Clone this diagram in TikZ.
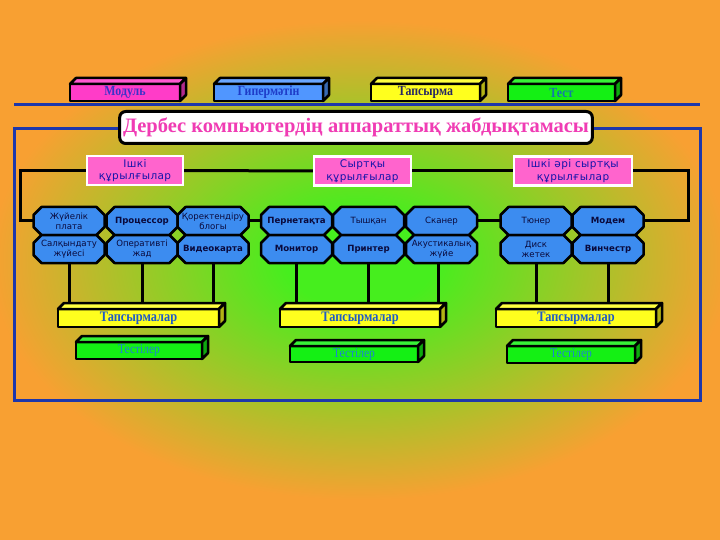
\documentclass[tikz,border=0pt]{standalone}
\usepackage{fontspec}
\setmainfont{Liberation Serif}
\newfontfamily\condserif[FakeStretch=0.85]{Liberation Serif}
\newfontfamily\hexfont{DejaVu Sans}
\newfontfamily\catfont[LetterSpace=4]{DejaVu Sans}
\usetikzlibrary{calc}
\definecolor{bgorange}{RGB}{248,160,50}
\definecolor{bggreen}{RGB}{70,238,30}
\definecolor{bluel}{RGB}{30,55,170}
\definecolor{hexblue}{RGB}{60,140,240}
\definecolor{hextext}{RGB}{10,10,60}
\definecolor{catpink}{RGB}{255,100,205}
\definecolor{cattext}{RGB}{20,20,170}
\definecolor{titlepink}{RGB}{240,60,180}
\definecolor{modfill}{RGB}{255,60,200}
\definecolor{modtext}{RGB}{60,50,200}
\definecolor{hypfill}{RGB}{80,150,255}
\definecolor{hyptext}{RGB}{30,60,200}
\definecolor{tapfill}{RGB}{255,255,30}
\definecolor{taptext}{RGB}{40,40,100}
\definecolor{testfill}{RGB}{20,240,20}
\definecolor{testtext}{RGB}{20,120,170}
\definecolor{tapstext}{RGB}{30,90,200}
\definecolor{tesstext}{RGB}{30,130,210}
\pgfdeclareradialshading{bgshade}{\pgfpoint{0bp}{0bp}}{color(0bp)=(bggreen); color(5bp)=(bggreen); color(25bp)=(bgorange); color(50bp)=(bgorange)}
\pgfdeclarelayer{lines}
\pgfdeclarelayer{shapes}
\pgfsetlayers{lines,shapes,main}
\tikzset{
  blueframe/.style={draw=bluel, line width=3},
  conn/.style={draw=black, line width=3},
  hexnode/.style={rectangle, minimum width=71, minimum height=28, inner sep=0, outer sep=0, align=center, text=hextext, font=\hexfont\fontsize{8.6}{10}\selectfont},
  hexshape/.style={fill=hexblue, draw=black, line width=2.5, line join=round},
  barfront/.style={rectangle, draw=black, line width=2.5, outer sep=0, inner sep=0, line join=round},
  barface/.style={draw=black, line width=2.5, line join=round},
  catbox/.style={rectangle, fill=catpink, draw=white, line width=2.5, minimum height=29, inner sep=0, outer sep=0, align=center, text=cattext, font=\catfont\fontsize{10.5}{12.5}\selectfont},
  titlebox/.style={rectangle, rounded corners=6, fill=white, draw=black, line width=3, minimum width=469, minimum height=32, outer sep=0, text=titlepink, font=\bfseries\fontsize{20.5}{22}\selectfont},
  topbtn/.style={font=\condserif\bfseries\fontsize{14}{15}\selectfont},
  tapsbtn/.style={text=tapstext, font=\condserif\bfseries\fontsize{14.5}{15}\selectfont},
  tessbtn/.style={text=tesstext, font=\condserif\fontsize{13.5}{14}\selectfont}
}
\newcommand\chm{8}
\newcommand\octbox[4]{%
  \node[hexnode] (#1) at (#2,#3) {#4};
  \begin{pgfonlayer}{shapes}
  \filldraw[hexshape] ($(#1.north west)+(\chm,0)$) -- ($(#1.north east)+(-\chm,0)$) -- ($(#1.north east)+(0,\chm)$) -- ($(#1.south east)+(0,-\chm)$) -- ($(#1.south east)+(-\chm,0)$) -- ($(#1.south west)+(\chm,0)$) -- ($(#1.south west)+(0,-\chm)$) -- ($(#1.north west)+(0,\chm)$) -- cycle;
  \end{pgfonlayer}}
\newcommand\threedbar[7]{%
  \node[barfront, fill=#5, minimum width=#3, minimum height=#4, #6] (#1) at #2 {#7};
  \filldraw[barface, fill=#5!85!white] (#1.north west) -- ++(6,-6) -- ($(#1.north east)+(6,-6)$) -- (#1.north east) -- cycle;
  \filldraw[barface, fill=#5!70!black] (#1.north east) -- ++(6,-6) -- ($(#1.south east)+(6,-6)$) -- (#1.south east) -- cycle;}
\begin{document}
\begin{tikzpicture}[x=1pt, y=-1pt]
\useasboundingbox (0,0) rectangle (720,540);
\begin{pgfonlayer}{lines}
\fill[bgorange] (0,0) rectangle (720,540);
\shade[shading=bgshade] (-10,20) rectangle (730,500);
\draw[blueframe] (14,105) -- (700,105);
\draw[blueframe] (14,129) rectangle (700,400);
\end{pgfonlayer}

% top buttons
\threedbar{mod}{(125,92.5)}{110}{17}{modfill}{topbtn, text=modtext}{Модуль}
\threedbar{hyp}{(268.5,92.5)}{109}{17}{hypfill}{topbtn, text=hyptext}{Гипермәтін}
\threedbar{tap}{(425.5,92.5)}{109}{17}{tapfill}{topbtn, text=taptext}{Тапсырма}
\threedbar{tst}{(561.5,92.5)}{107}{17}{testfill}{topbtn, text=testtext}{Тест}

% title
\node[titlebox] (title) at (356,127.5) {Дербес компьютердің аппараттық жабдықтамасы};

% categories
\node[catbox, minimum width=96] (c1) at (135,170.5) {Ішкі\\құрылғылар};
\node[catbox, minimum width=97] (c2) at (362.5,171) {Сыртқы\\құрылғылар};
\node[catbox, minimum width=118] (c3) at (573,171) {Ішкі әрі сыртқы\\құрылғылар};

% hex boxes
\octbox{h1}{69}{221}{Жүйелік\\плата}
\octbox{h2}{142}{221}{\bfseries Процессор}
\octbox{h3}{213}{221}{Қоректендіру\\блогы}
\octbox{h4}{69}{249}{Салқындату\\жүйесі}
\octbox{h5}{142}{249}{Оперативті\\жад}
\octbox{h6}{213}{249}{\bfseries Видеокарта}
\octbox{h7}{296.5}{221}{\bfseries Пернетақта}
\octbox{h8}{368.5}{221}{Тышқан}
\octbox{h9}{441.5}{221}{Сканер}
\octbox{h10}{296.5}{249}{\bfseries Монитор}
\octbox{h11}{368.5}{249}{\bfseries Принтер}
\octbox{h12}{441.5}{249}{Акустикалық\\жүйе}
\octbox{h13}{536}{221}{Тюнер}
\octbox{h14}{608}{221}{\bfseries Модем}
\octbox{h15}{536}{249}{Диск\\жетек}
\octbox{h16}{608}{249}{\bfseries Винчестр}

% task / test bars
\threedbar{t1}{(138.5,318)}{161}{18}{tapfill}{tapsbtn}{Тапсырмалар}
\threedbar{t2}{(360,318)}{160}{18}{tapfill}{tapsbtn}{Тапсырмалар}
\threedbar{t3}{(576,318)}{160}{18}{tapfill}{tapsbtn}{Тапсырмалар}
\threedbar{s1}{(139,350.5)}{126}{17}{testfill}{tessbtn}{Тестілер}
\threedbar{s2}{(354,354)}{128}{16}{testfill}{tessbtn}{Тестілер}
\threedbar{s3}{(571,354.5)}{128}{17}{testfill}{tessbtn}{Тестілер}

% connectors
\coordinate (lk) at (20,221);
\coordinate (rk) at (688,221);
\begin{pgfonlayer}{lines}
\draw[conn] (c1.east) -- (c2.west);
\draw[conn] (c2.east) -- (c3.west);
\draw[conn] (c1.west) -| (lk) -- (h1.west);
\draw[conn] (c3.east) -| (rk) -- (h14.east);
\draw[conn] (h3.east) -- (h7.west);
\draw[conn] (h9.east) -- (h13.west);
\draw[conn] (h4.south) -- (h4.south |- t1.north);
\draw[conn] (h5.south) -- (h5.south |- t1.north);
\draw[conn] (h6.south) -- (h6.south |- t1.north);
\draw[conn] (h10.south) -- (h10.south |- t2.north);
\draw[conn] (h11.south) -- (h11.south |- t2.north);
\draw[conn] ($(h12.south)+(-3,0)$) -- ($(h12.south |- t2.north)+(-3,0)$);
\draw[conn] (h15.south) -- (h15.south |- t3.north);
\draw[conn] (h16.south) -- (h16.south |- t3.north);
\end{pgfonlayer}
\end{tikzpicture}
\end{document}
